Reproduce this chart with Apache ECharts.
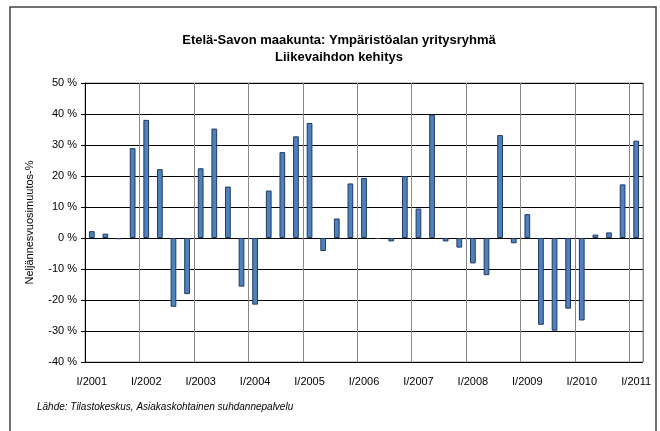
<!DOCTYPE html>
<html>
<head>
<meta charset="utf-8">
<script src="https://cdn.jsdelivr.net/npm/echarts@6/dist/echarts.min.js"></script>
<style>
  html, body { margin: 0; padding: 0; background: #fff; }
  #chart { width: 660px; height: 431px; }
</style>
</head>
<body>
<div id="chart"></div>
<script>
// neljännekset I/2001 ... I/2011
var quarters = [];
var years = [2001, 2002, 2003, 2004, 2005, 2006, 2007, 2008, 2009, 2010, 2011];
var romans = ['I', 'II', 'III', 'IV'];
years.forEach(function (y) {
    romans.forEach(function (r) {
        if (y < 2011 || r === 'I') quarters.push(r + '/' + y);
    });
});

// liikevaihdon muutos-% (luettu kuvasta)
var changePct = [
    2.2, 1.4, -0.4, 29.0,
    38.1, 22.2, -22.2, -18.1,
    22.5, 35.3, 16.6, -15.7,
    -21.5, 15.3, 27.7, 32.8,
    37.1, -4.2, 6.3, 17.6,
    19.4, -0.3, -1.1, 20.0,
    9.5, 39.8, -1.1, -3.1,
    -8.2, -12.0, 33.2, -1.7,
    7.7, -28.0, -29.9, -22.8,
    -26.6, 1.1, 1.8, 17.3,
    31.4
];

var yMin = -40, yMax = 50, yStep = 10;

var myChart = echarts.init(document.getElementById('chart'));
var option = {
    animation: false,
    backgroundColor: '#fff',
    textStyle: { fontFamily: 'Liberation Sans' },
    title: {
        text: 'Etelä-Savon maakunta: Ympäristöalan yritysryhmä\nLiikevaihdon kehitys',
        left: 334,
        textAlign: 'center',
        top: 27,
        textStyle: {
            fontFamily: 'Liberation Sans',
            fontSize: 13,
            fontWeight: 'bold',
            color: '#000',
            lineHeight: 17
        }
    },
    graphic: [
        {
            type: 'rect',
            shape: { x: 10, y: 7, width: 646, height: 430 },
            style: { fill: 'none', stroke: '#444', lineWidth: 1.5 },
            silent: true
        },
        {
            type: 'rect',
            shape: { x: 85, y: 83, width: 558, height: 279 },
            style: { fill: 'none', stroke: '#999', lineWidth: 1 },
            silent: true,
            z: 0
        },
        {
            type: 'text',
            left: 37,
            top: 402,
            style: {
                text: 'Lähde: Tilastokeskus, Asiakaskohtainen suhdannepalvelu',
                font: 'italic 10px "Liberation Sans"',
                fill: '#000'
            }
        }
    ],
    grid: { left: 85, right: 17, top: 83, bottom: 69 },
    xAxis: {
        type: 'category',
        data: quarters,
        boundaryGap: true,
        axisLine: { show: false },
        axisTick: { show: false },
        axisLabel: {
            interval: 3,
            color: '#000',
            fontFamily: 'Liberation Sans',
            fontSize: 11,
            margin: 14
        },
        splitLine: {
            show: true,
            interval: 3,
            lineStyle: { color: '#888', width: 1 }
        }
    },
    yAxis: {
        type: 'value',
        min: yMin,
        max: yMax,
        interval: yStep,
        name: 'Neljännesvuosimuutos-%',
        nameLocation: 'middle',
        nameRotate: 90,
        nameGap: 50,
        nameTextStyle: { color: '#000', fontSize: 11, fontFamily: 'Liberation Sans' },
        axisLine: { show: true, lineStyle: { color: '#000' } },
        axisTick: { show: true, length: 4, lineStyle: { color: '#000' } },
        axisLabel: {
            formatter: '{value} %',
            color: '#000',
            fontFamily: 'Liberation Sans',
            fontSize: 11,
            margin: 8
        },
        splitLine: { show: true, lineStyle: { color: '#000', width: 1 } }
    },
    series: [
        {
            type: 'bar',
            data: changePct,
            barWidth: '42%',
            barMinHeight: 1,
            itemStyle: {
                color: '#4f81bd',
                borderColor: '#1f3a63',
                borderWidth: 1
            }
        }
    ]
};
myChart.setOption(option);
</script>
</body>
</html>
